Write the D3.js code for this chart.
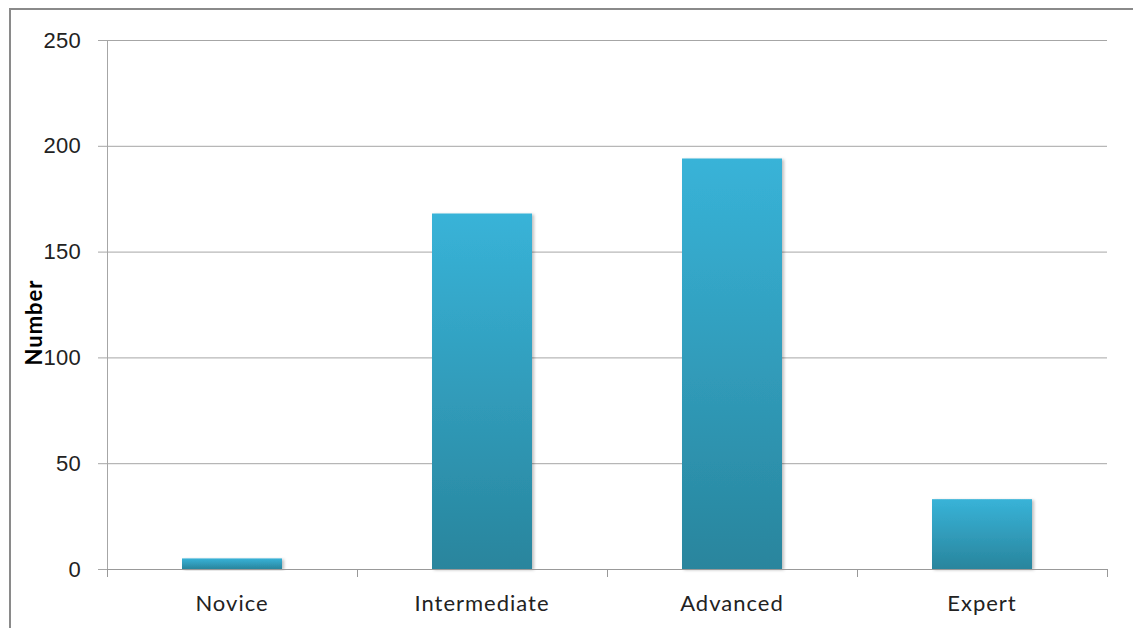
<!DOCTYPE html>
<html>
<head>
<meta charset="utf-8">
<script src="https://cdn.jsdelivr.net/npm/d3@7"></script>
<style>
  body { margin: 0; background: #fff; }
  svg { display: block; font-family: Lato, "Open Sans", sans-serif; }
</style>
</head>
<body>
<svg id="chart" width="1133" height="628"></svg>
<script>
var categories = ['Novice', 'Intermediate', 'Advanced', 'Expert']
var values = [5, 168, 194, 33]
var yTicks = [0, 50, 100, 150, 200, 250]
var yLabel = 'Number'

var svg = d3.select('#chart')
var margin = {left: 107, right: 26, top: 40, bottom: 59}
var width = 1133 - margin.left - margin.right
var height = 628 - margin.top - margin.bottom

// outer chart frame (only top and left edges are in view)
svg.append('path')
  .attr('d', 'M10,640 V9 H1140')
  .attr('fill', 'none')
  .attr('stroke', '#8a8a8a')
  .attr('stroke-width', 2)

var defs = svg.append('defs')
var grad = defs.append('linearGradient')
  .attr('id', 'barGrad')
  .attr('x1', 0).attr('y1', 0).attr('x2', 0).attr('y2', 1)
grad.append('stop').attr('offset', '0%').attr('stop-color', '#38b3d8')
grad.append('stop').attr('offset', '100%').attr('stop-color', '#29859d')

var shadow = defs.append('filter').attr('id', 'shadow')
  .attr('x', '-10%').attr('y', '-10%').attr('width', '130%').attr('height', '120%')
shadow.append('feDropShadow')
  .attr('dx', 2).attr('dy', 1).attr('stdDeviation', 1.5)
  .attr('flood-color', '#000').attr('flood-opacity', 0.25)

var g = svg.append('g').attr('transform', `translate(${margin.left},${margin.top})`)

var x = d3.scaleBand().domain(categories).range([0, width]).paddingInner(0.6).paddingOuter(0.3)
var y = d3.scaleLinear().domain([0, 250]).range([height, 0])
var step = width / categories.length

// gridlines
g.append('g')
  .selectAll('line')
  .data(yTicks.filter(d => d > 0))
  .join('line')
  .attr('x1', 0).attr('x2', width)
  .attr('y1', d => y(d) + 0.5).attr('y2', d => y(d) + 0.5)
  .attr('stroke', '#a6a6a6')

// y axis
var yAxis = g.append('g')
  .call(d3.axisLeft(y).tickValues(yTicks).tickSize(9).tickPadding(17))
yAxis.select('.domain').attr('stroke', '#a6a6a6').attr('d', `M0.5,0V${height}`)
yAxis.selectAll('.tick line').attr('stroke', '#a6a6a6')
yAxis.selectAll('text').attr('font-size', 22).attr('fill', '#222').attr('letter-spacing', 0.3)

// bars
g.append('g')
  .selectAll('rect')
  .data(values)
  .join('rect')
  .attr('x', (d, i) => x(categories[i]))
  .attr('width', x.bandwidth())
  .attr('y', d => y(d))
  .attr('height', d => height - y(d))
  .attr('fill', 'url(#barGrad)')
  .attr('filter', 'url(#shadow)')

// x axis
var xAxis = g.append('g').attr('transform', `translate(0,${height})`)
xAxis.append('line')
  .attr('x1', 0).attr('x2', width)
  .attr('y1', 0.5).attr('y2', 0.5)
  .attr('stroke', '#999')
xAxis.selectAll('line.tick')
  .data(d3.range(categories.length + 1))
  .join('line')
  .attr('class', 'tick')
  .attr('x1', d => d * step + 0.5).attr('x2', d => d * step + 0.5)
  .attr('y1', 0).attr('y2', 8)
  .attr('stroke', '#999')
xAxis.selectAll('text')
  .data(categories)
  .join('text')
  .attr('x', d => x(d) + x.bandwidth() / 2)
  .attr('y', 42)
  .attr('text-anchor', 'middle')
  .attr('font-size', 22)
  .attr('letter-spacing', 1)
  .attr('fill', '#222')
  .text(d => d)

// y label
svg.append('text')
  .attr('transform', `translate(42,${margin.top + height / 2 + 18}) rotate(-90)`)
  .attr('text-anchor', 'middle')
  .attr('font-size', 22)
  .attr('font-weight', 'bold')
  .attr('letter-spacing', 1)
  .attr('fill', '#000')
  .text(yLabel)
</script>
</body>
</html>
